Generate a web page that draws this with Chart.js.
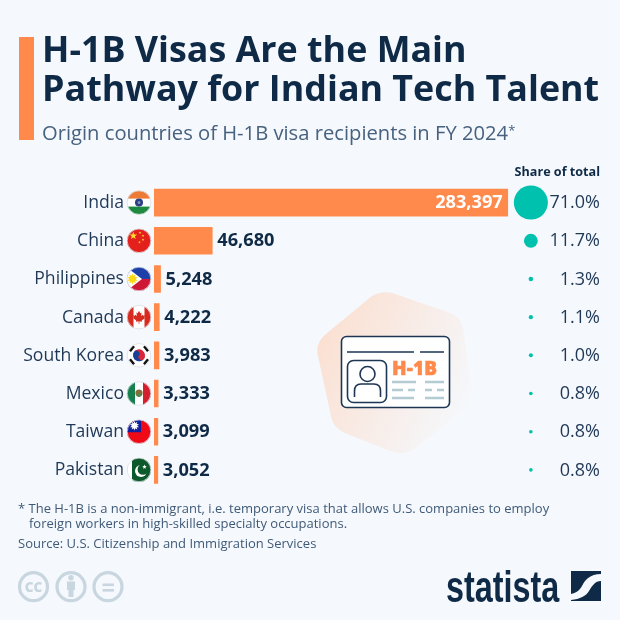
<!DOCTYPE html>
<html>
<head>
<meta charset="utf-8">
<title>H-1B Visas</title>
<script src="https://cdn.jsdelivr.net/npm/chart.js@4"></script>
<style>
html, body { margin: 0; padding: 0; background: #f5f8fc; }
#page { position: relative; width: 620px; height: 620px; overflow: hidden; font-family: "Open Sans", sans-serif; background: #f5f8fc; }
#page > * { position: absolute; }
#chart { left: 0; top: 0; }
#art { left: 0; top: 0; }
#accent { left: 18.5px; top: 37px; width: 15px; height: 103px; background: #ff8a4b; }
.title { left: 42px; font-size: 35.85px; font-weight: 700; color: #0f2a46; line-height: 40px; white-space: nowrap; }
#subtitle { left: 42px; top: 118px; font-size: 20.2px; line-height: 28px; color: #47617f; white-space: nowrap; }
#subtitle span { font-size: 13px; position: relative; top: -5px; }
.note { left: 18px; font-size: 13px; line-height: 16px; color: #3f5a78; white-space: nowrap; }
#logo { left: 446px; top: 562px; font-family: "Liberation Sans", sans-serif; font-weight: 700; font-size: 44px; line-height: 50px; color: #0f2a46; white-space: nowrap; transform: scaleX(0.735); transform-origin: left top; }
</style>
</head>
<body>
<div id="page">
  <svg id="art" width="620" height="620" viewBox="0 0 620 620">
    <defs>
      <linearGradient id="blob" x1="0" y1="0.2" x2="1" y2="0.7">
        <stop offset="0" stop-color="#fbdfd0"/>
        <stop offset="1" stop-color="#f5f8fc"/>
      </linearGradient>
    </defs>
    <path d="M372 296Q385 289 398 295L450 313Q461 317 463 328L471 388Q473 402 462 411L416 448Q404 456 390 451L345 433Q333 428 331 416L318 356Q315 343 326 334Z" fill="url(#blob)"/>
  </svg>
  <canvas id="chart" width="620" height="620"></canvas>
  <svg id="art2" width="620" height="620" viewBox="0 0 620 620" style="left:0;top:0">
    <!-- id card -->
    <rect x="341.5" y="336.5" width="108" height="71" rx="5" fill="#fff" stroke="#1c3654" stroke-width="1.6"/>
    <path d="M347 352H414M420 352H444" stroke="#1c3654" stroke-width="1.4" fill="none"/>
    <rect x="347.5" y="360.5" width="39" height="42" rx="6" fill="none" stroke="#1c3654" stroke-width="1.6"/>
    <circle cx="367.5" cy="374" r="7.5" fill="none" stroke="#1c3654" stroke-width="1.6"/>
    <path d="M354.5 397V391Q354.5 384 361 384H374Q380.5 384 380.5 391V397" fill="none" stroke="#1c3654" stroke-width="1.6"/>
    <text x="392" y="375" font-family="'Open Sans'" font-weight="800" font-size="19" letter-spacing="0.2" fill="#ff8a4b" stroke="#ff8a4b" stroke-width="0.5">H-1B</text>
    <path d="M392 382H416M425 382H444M392 390H403M408 390H415M425 390H432M437 390H444M392 398H414M425 398H444" stroke="#b3cbd3" stroke-width="2.6" fill="none"/>
    <!-- licence badges -->
    <g fill="none" stroke="#c8d6df" stroke-width="3.2">
      <circle cx="33.5" cy="586.7" r="14"/>
      <circle cx="71" cy="586.7" r="14"/>
      <circle cx="108" cy="586.7" r="14"/>
    </g>
    <text x="33.5" y="591.5" text-anchor="middle" font-family="'Open Sans'" font-weight="800" font-size="13.5" fill="#c8d6df">CC</text>
    <g fill="#c8d6df">
      <circle cx="71" cy="577.8" r="2.7"/>
      <path d="M67 581.5H75V590H73.5V597H68.5V590H67Z"/>
      <rect x="102.5" y="583.5" width="11.5" height="2.6"/>
      <rect x="102.5" y="589" width="11.5" height="2.6"/>
    </g>
    <!-- statista mark -->
    <path d="M571 571H601V574C590 574 585 580 582 586C579 591 576 593 571 594Z" fill="#0f2a46"/>
    <path d="M601 581C595 581 592 586 589 591C586 596 580 599 571 600V601H601Z" fill="#0f2a46"/>
  </svg>
  <div id="accent"></div>
  <div class="title" style="top:29px">H-1B Visas Are the Main</div>
  <div class="title" style="top:68px">Pathway for Indian Tech Talent</div>
  <div id="subtitle">Origin countries of H-1B visa recipients in FY 2024<span>*</span></div>
  <div class="note" style="top:500px">* The H-1B is a non-immigrant, i.e. temporary visa that allows U.S. companies to employ</div>
  <div class="note" style="top:515px;left:29px">foreign workers in high-skilled specialty occupations.</div>
  <div class="note" style="top:535px">Source: U.S. Citizenship and Immigration Services</div>
  <div id="logo">statista</div>
</div>

<script>
// ################ DATA ################

var countries = ['India', 'China', 'Philippines', 'Canada', 'South Korea', 'Mexico', 'Taiwan', 'Pakistan'];
var recipients = [283397, 46680, 5248, 4222, 3983, 3333, 3099, 3052];
var recipientLabels = ['283,397', '46,680', '5,248', '4,222', '3,983', '3,333', '3,099', '3,052'];
var sharePercent = [71.0, 11.7, 1.3, 1.1, 1.0, 0.8, 0.8, 0.8];
var shareLabels = ['71.0%', '11.7%', '1.3%', '1.1%', '1.0%', '0.8%', '0.8%', '0.8%'];
var shareHeader = 'Share of total';

var navy = '#0f2a46';
var orange = '#ff8a4b';
var teal = '#00c1ad';

// ################ FLAGS ################

function star(ctx, x, y, r, color, rot) {
    ctx.fillStyle = color;
    ctx.beginPath();
    for (var i = 0; i < 10; i++) {
        var rr = i % 2 ? r * 0.42 : r;
        var a = -Math.PI / 2 + (rot || 0) + i * Math.PI / 5;
        ctx.lineTo(x + rr * Math.cos(a), y + rr * Math.sin(a));
    }
    ctx.closePath();
    ctx.fill();
}

function rect(ctx, color, x, y, w, h) {
    ctx.fillStyle = color;
    ctx.fillRect(x, y, w, h);
}

function disc(ctx, color, x, y, r) {
    ctx.fillStyle = color;
    ctx.beginPath();
    ctx.arc(x, y, r, 0, Math.PI * 2);
    ctx.fill();
}

function polygon(ctx, color, points) {
    ctx.fillStyle = color;
    ctx.beginPath();
    points.forEach(function (p) { ctx.lineTo(p[0], p[1]); });
    ctx.closePath();
    ctx.fill();
}

// half of a maple leaf, mirrored below
var leafHalf = [[0, -6.5], [1.3, -4], [2.6, -4.6], [2, -1], [3.5, -2.6], [4, -1.4], [6, -1.8], [5.3, 0.3], [6, 0.9], [2.8, 3.3], [3, 4.5], [0.4, 4.2], [0.4, 6.5]];

// every flag is drawn around 0,0 in a circle of radius 12
var flags = {
    'India': function (ctx) {
        rect(ctx, '#fff', -12, -12, 24, 24);
        rect(ctx, '#ee7b35', -12, -12, 24, 8);
        rect(ctx, '#1d8a3f', -12, 4, 24, 8);
        disc(ctx, '#2b3f86', 0, 0, 4);
        disc(ctx, '#8d97c4', 0, 0, 1.4);
    },
    'China': function (ctx) {
        rect(ctx, '#e3201c', -12, -12, 24, 24);
        star(ctx, -5.7, -5, 4, '#ffd92e');
        star(ctx, 1, -8, 1.4, '#ffd92e');
        star(ctx, 4, -5, 1.4, '#ffd92e');
        star(ctx, 4, -1, 1.4, '#ffd92e');
        star(ctx, 0.5, 1.5, 1.4, '#ffd92e');
    },
    'Philippines': function (ctx) {
        rect(ctx, '#1c3fa8', -12, -12, 24, 12);
        rect(ctx, '#ce1734', -12, 0, 24, 12);
        polygon(ctx, '#fff', [[-14, -13], [3, 0], [-14, 13]]);
        star(ctx, -6.5, 0, 5.6, '#f9d616');
        star(ctx, -6.5, 0, 5.6, '#f9d616', Math.PI / 5);
    },
    'Canada': function (ctx) {
        rect(ctx, '#fff', -12, -12, 24, 24);
        rect(ctx, '#d82b1f', -12, -12, 6.5, 24);
        rect(ctx, '#d82b1f', 5.5, -12, 6.5, 24);
        var mirrored = leafHalf.slice().reverse().map(function (p) { return [-p[0], p[1]]; });
        polygon(ctx, '#d82b1f', leafHalf.concat(mirrored));
    },
    'South Korea': function (ctx) {
        rect(ctx, '#fff', -12, -12, 24, 24);
        ctx.save();
        ctx.rotate(0.6);
        ctx.fillStyle = '#d9263a';
        ctx.beginPath();
        ctx.arc(0, 0, 6, Math.PI, 0);
        ctx.fill();
        ctx.fillStyle = '#1a3f96';
        ctx.beginPath();
        ctx.arc(0, 0, 6, 0, Math.PI);
        ctx.fill();
        disc(ctx, '#d9263a', 3, 0, 3);
        disc(ctx, '#1a3f96', -3, 0, 3);
        ctx.restore();
        ctx.strokeStyle = '#111';
        ctx.lineWidth = 2.4;
        [[-9, -4, -5, -9], [9, 4, 5, 9], [-9, 4, -5, 9], [9, -4, 5, -9]].forEach(function (b) {
            ctx.beginPath();
            ctx.moveTo(b[0], b[1]);
            ctx.lineTo(b[2], b[3]);
            ctx.stroke();
        });
    },
    'Mexico': function (ctx) {
        rect(ctx, '#fff', -12, -12, 24, 24);
        rect(ctx, '#16814f', -12, -12, 8, 24);
        rect(ctx, '#d3202f', 4, -12, 8, 24);
        disc(ctx, '#8c6b3a', 0, -0.5, 3.6);
        disc(ctx, '#4f8a4e', 0, 1.6, 1.9);
    },
    'Taiwan': function (ctx) {
        rect(ctx, '#ee0a16', -12, -12, 24, 24);
        rect(ctx, '#12209c', -12, -12, 14, 12.5);
        star(ctx, -4.5, -6, 4.8, '#fff');
        star(ctx, -4.5, -6, 4.8, '#fff', Math.PI / 5);
    },
    'Pakistan': function (ctx) {
        rect(ctx, '#fff', -12, -12, 24, 24);
        rect(ctx, '#0c5a2b', -7, -12, 19, 24);
        disc(ctx, '#fff', 2, 1, 6);
        disc(ctx, '#0c5a2b', 4, -0.5, 5.4);
        star(ctx, 5.5, -3, 2.4, '#fff');
    }
};

// ################ PLUGINS ################

var flagPlugin = {
    id: 'flagPlugin',
    afterDraw: function (chart) {
        var ctx = chart.ctx;
        var yAxis = chart.scales.y;
        countries.forEach(function (name, i) {
            ctx.save();
            ctx.translate(139, yAxis.getPixelForValue(i));
            ctx.save();
            ctx.beginPath();
            ctx.arc(0, 0, 12, 0, Math.PI * 2);
            ctx.clip();
            flags[name](ctx);
            ctx.restore();
            ctx.strokeStyle = '#d9dee3';
            ctx.lineWidth = 0.8;
            ctx.beginPath();
            ctx.arc(0, 0, 11.8, 0, Math.PI * 2);
            ctx.stroke();
            ctx.restore();
        });
    }
};

var labelPlugin = {
    id: 'labelPlugin',
    afterDatasetsDraw: function (chart) {
        var ctx = chart.ctx;
        var xAxis = chart.scales.x;
        var yAxis = chart.scales.y;
        ctx.save();
        ctx.textBaseline = 'middle';

        // recipients, the India bar is long enough to hold its own label
        ctx.font = '700 18.2px "Open Sans"';
        recipients.forEach(function (value, i) {
            var end = xAxis.getPixelForValue(value);
            var y = yAxis.getPixelForValue(i) + 0.5;
            if (i == 0) {
                ctx.fillStyle = '#fff';
                ctx.textAlign = 'right';
                ctx.fillText(recipientLabels[i], end - 5, y);
            } else {
                ctx.fillStyle = navy;
                ctx.textAlign = 'left';
                ctx.fillText(recipientLabels[i], end + 5, y);
            }
        });

        // share column
        ctx.textAlign = 'right';
        ctx.fillStyle = '#1f3856';
        ctx.font = '400 18px "Open Sans"';
        shareLabels.forEach(function (label, i) {
            ctx.fillText(label, chart.chartArea.right, yAxis.getPixelForValue(i) + 0.5);
        });
        ctx.fillStyle = navy;
        ctx.font = '700 12.6px "Open Sans"';
        ctx.fillText(shareHeader, chart.chartArea.right, 172);
        ctx.restore();
    }
};

// ################ CHART ################

var shareColumn = 0.845;

var chart = new Chart(document.getElementById('chart'), {
    type: 'bar',
    plugins: [labelPlugin, flagPlugin],
    data: {
        labels: countries,
        datasets: [{
            type: 'bar',
            data: recipients,
            backgroundColor: orange,
            barThickness: 27,
            xAxisID: 'x',
            yAxisID: 'y'
        }, {
            type: 'scatter',
            data: sharePercent.map(function (share, i) {
                return {x: shareColumn, y: countries[i]};
            }),
            xAxisID: 'xShare',
            yAxisID: 'y',
            backgroundColor: teal,
            borderWidth: 0,
            pointRadius: function (c) {
                return 2.02 * Math.sqrt(sharePercent[c.dataIndex]);
            }
        }]
    },
    options: {
        indexAxis: 'y',
        responsive: false,
        animation: false,
        layout: {padding: {top: 183.5, bottom: 131, left: 0, right: 20}},
        plugins: {legend: {display: false}, tooltip: {enabled: false}},
        scales: {
            x: {display: false, min: 0, max: 357300},
            xShare: {display: false, position: 'top', min: 0, max: 1},
            y: {
                type: 'category',
                afterFit: function (axis) { axis.width = 154; },
                grid: {display: false, drawTicks: false},
                border: {display: false},
                ticks: {
                    padding: 30,
                    labelOffset: 0.5,
                    color: '#1f3856',
                    font: {family: '"Open Sans"', size: 17.6}
                }
            }
        }
    }
});
</script>
</body>
</html>
